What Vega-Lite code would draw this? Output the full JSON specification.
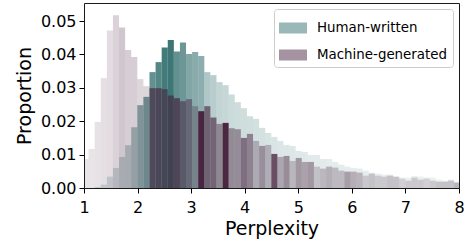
{
  "$schema": "https://vega.github.io/schema/vega-lite/v6.json",
  "width": 375,
  "height": 185,
  "autosize": {"type": "none"},
  "padding": {"left": 84, "top": 3, "right": 8, "bottom": 54},
  "background": "white",
  "config": {
    "font": "DejaVu Sans",
    "view": {"stroke": "#1a1a1a", "strokeWidth": 1},
    "axis": {
      "domain": false, "grid": false, "tickColor": "black", "tickSize": 5, "tickWidth": 1,
      "labelFont": "DejaVu Sans", "labelFontSize": 16, "labelColor": "black",
      "titleFont": "DejaVu Sans", "titleFontSize": 19, "titleFontWeight": "normal", "titleColor": "black",
      "labelFlush": false, "labelOverlap": false
    },
    "axisX": {"labelPadding": 6, "titlePadding": 4},
    "axisY": {"labelPadding": 3, "titlePadding": 6}
  },
  "data": {"values": [
    {"group": "Human-written", "lo": 1.1991, "hi": 1.3128, "p": 0.0003, "shade": 0.2},
    {"group": "Human-written", "lo": 1.3128, "hi": 1.4265, "p": 0.0010, "shade": 0.2},
    {"group": "Human-written", "lo": 1.4265, "hi": 1.5402, "p": 0.0034, "shade": 0.2},
    {"group": "Human-written", "lo": 1.5402, "hi": 1.6539, "p": 0.0060, "shade": 0.22},
    {"group": "Human-written", "lo": 1.6539, "hi": 1.7676, "p": 0.0093, "shade": 0.25},
    {"group": "Human-written", "lo": 1.7676, "hi": 1.8813, "p": 0.0128, "shade": 0.3},
    {"group": "Human-written", "lo": 1.8813, "hi": 1.9950, "p": 0.0182, "shade": 0.4},
    {"group": "Human-written", "lo": 1.9950, "hi": 2.1087, "p": 0.0248, "shade": 0.55},
    {"group": "Human-written", "lo": 2.1087, "hi": 2.2224, "p": 0.0273, "shade": 0.65},
    {"group": "Human-written", "lo": 2.2224, "hi": 2.3361, "p": 0.0347, "shade": 0.75},
    {"group": "Human-written", "lo": 2.3361, "hi": 2.4498, "p": 0.0377, "shade": 0.82},
    {"group": "Human-written", "lo": 2.4498, "hi": 2.5635, "p": 0.0421, "shade": 0.9},
    {"group": "Human-written", "lo": 2.5635, "hi": 2.6772, "p": 0.0443, "shade": 0.93},
    {"group": "Human-written", "lo": 2.6772, "hi": 2.7909, "p": 0.0409, "shade": 0.75},
    {"group": "Human-written", "lo": 2.7909, "hi": 2.9046, "p": 0.0436, "shade": 0.7},
    {"group": "Human-written", "lo": 2.9046, "hi": 3.0183, "p": 0.0401, "shade": 0.6},
    {"group": "Human-written", "lo": 3.0183, "hi": 3.1320, "p": 0.0407, "shade": 0.57},
    {"group": "Human-written", "lo": 3.1320, "hi": 3.2457, "p": 0.0395, "shade": 0.55},
    {"group": "Human-written", "lo": 3.2457, "hi": 3.3594, "p": 0.0347, "shade": 0.38},
    {"group": "Human-written", "lo": 3.3594, "hi": 3.4731, "p": 0.0338, "shade": 0.34},
    {"group": "Human-written", "lo": 3.4731, "hi": 3.5868, "p": 0.0317, "shade": 0.29},
    {"group": "Human-written", "lo": 3.5868, "hi": 3.7005, "p": 0.0308, "shade": 0.27},
    {"group": "Human-written", "lo": 3.7005, "hi": 3.8142, "p": 0.0280, "shade": 0.25},
    {"group": "Human-written", "lo": 3.8142, "hi": 3.9279, "p": 0.0257, "shade": 0.24},
    {"group": "Human-written", "lo": 3.9279, "hi": 4.0416, "p": 0.0239, "shade": 0.23},
    {"group": "Human-written", "lo": 4.0416, "hi": 4.1553, "p": 0.0215, "shade": 0.22},
    {"group": "Human-written", "lo": 4.1553, "hi": 4.2690, "p": 0.0207, "shade": 0.21},
    {"group": "Human-written", "lo": 4.2690, "hi": 4.3827, "p": 0.0180, "shade": 0.2},
    {"group": "Human-written", "lo": 4.3827, "hi": 4.4964, "p": 0.0165, "shade": 0.19},
    {"group": "Human-written", "lo": 4.4964, "hi": 4.6101, "p": 0.0153, "shade": 0.18},
    {"group": "Human-written", "lo": 4.6101, "hi": 4.7238, "p": 0.0141, "shade": 0.17},
    {"group": "Human-written", "lo": 4.7238, "hi": 4.8375, "p": 0.0129, "shade": 0.16},
    {"group": "Human-written", "lo": 4.8375, "hi": 4.9512, "p": 0.0126, "shade": 0.16},
    {"group": "Human-written", "lo": 4.9512, "hi": 5.0649, "p": 0.0111, "shade": 0.15},
    {"group": "Human-written", "lo": 5.0649, "hi": 5.1786, "p": 0.0108, "shade": 0.15},
    {"group": "Human-written", "lo": 5.1786, "hi": 5.2923, "p": 0.0099, "shade": 0.14},
    {"group": "Human-written", "lo": 5.2923, "hi": 5.4060, "p": 0.0099, "shade": 0.14},
    {"group": "Human-written", "lo": 5.4060, "hi": 5.5197, "p": 0.0087, "shade": 0.14},
    {"group": "Human-written", "lo": 5.5197, "hi": 5.6334, "p": 0.0087, "shade": 0.13},
    {"group": "Human-written", "lo": 5.6334, "hi": 5.7471, "p": 0.0078, "shade": 0.13},
    {"group": "Human-written", "lo": 5.7471, "hi": 5.8608, "p": 0.0070, "shade": 0.13},
    {"group": "Human-written", "lo": 5.8608, "hi": 5.9745, "p": 0.0064, "shade": 0.12},
    {"group": "Human-written", "lo": 5.9745, "hi": 6.0882, "p": 0.0060, "shade": 0.12},
    {"group": "Human-written", "lo": 6.0882, "hi": 6.2019, "p": 0.0058, "shade": 0.12},
    {"group": "Human-written", "lo": 6.2019, "hi": 6.3156, "p": 0.0052, "shade": 0.12},
    {"group": "Human-written", "lo": 6.3156, "hi": 6.4293, "p": 0.0046, "shade": 0.11},
    {"group": "Human-written", "lo": 6.4293, "hi": 6.5430, "p": 0.0043, "shade": 0.11},
    {"group": "Human-written", "lo": 6.5430, "hi": 6.6567, "p": 0.0040, "shade": 0.11},
    {"group": "Human-written", "lo": 6.6567, "hi": 6.7704, "p": 0.0040, "shade": 0.11},
    {"group": "Human-written", "lo": 6.7704, "hi": 6.8841, "p": 0.0034, "shade": 0.1},
    {"group": "Human-written", "lo": 6.8841, "hi": 6.9978, "p": 0.0031, "shade": 0.1},
    {"group": "Human-written", "lo": 6.9978, "hi": 7.1115, "p": 0.0031, "shade": 0.1},
    {"group": "Human-written", "lo": 7.1115, "hi": 7.2252, "p": 0.0036, "shade": 0.1},
    {"group": "Human-written", "lo": 7.2252, "hi": 7.3389, "p": 0.0034, "shade": 0.1},
    {"group": "Human-written", "lo": 7.3389, "hi": 7.4526, "p": 0.0031, "shade": 0.1},
    {"group": "Human-written", "lo": 7.4526, "hi": 7.5663, "p": 0.0031, "shade": 0.1},
    {"group": "Human-written", "lo": 7.5663, "hi": 7.6800, "p": 0.0025, "shade": 0.1},
    {"group": "Human-written", "lo": 7.6800, "hi": 7.7937, "p": 0.0022, "shade": 0.1},
    {"group": "Human-written", "lo": 7.7937, "hi": 7.9074, "p": 0.0025, "shade": 0.1},
    {"group": "Human-written", "lo": 7.9074, "hi": 8.0211, "p": 0.0019, "shade": 0.1},
    {"group": "Machine-generated", "lo": 0.9717, "hi": 1.0854, "p": 0.0087, "shade": 0.12},
    {"group": "Machine-generated", "lo": 1.0854, "hi": 1.1991, "p": 0.0117, "shade": 0.12},
    {"group": "Machine-generated", "lo": 1.1991, "hi": 1.3128, "p": 0.0198, "shade": 0.13},
    {"group": "Machine-generated", "lo": 1.3128, "hi": 1.4265, "p": 0.0329, "shade": 0.14},
    {"group": "Machine-generated", "lo": 1.4265, "hi": 1.5402, "p": 0.0472, "shade": 0.15},
    {"group": "Machine-generated", "lo": 1.5402, "hi": 1.6539, "p": 0.0517, "shade": 0.2},
    {"group": "Machine-generated", "lo": 1.6539, "hi": 1.7676, "p": 0.0481, "shade": 0.25},
    {"group": "Machine-generated", "lo": 1.7676, "hi": 1.8813, "p": 0.0413, "shade": 0.22},
    {"group": "Machine-generated", "lo": 1.8813, "hi": 1.9950, "p": 0.0392, "shade": 0.22},
    {"group": "Machine-generated", "lo": 1.9950, "hi": 2.1087, "p": 0.0326, "shade": 0.18},
    {"group": "Machine-generated", "lo": 2.1087, "hi": 2.2224, "p": 0.0305, "shade": 0.18},
    {"group": "Machine-generated", "lo": 2.2224, "hi": 2.3361, "p": 0.0299, "shade": 0.62},
    {"group": "Machine-generated", "lo": 2.3361, "hi": 2.4498, "p": 0.0299, "shade": 0.6},
    {"group": "Machine-generated", "lo": 2.4498, "hi": 2.5635, "p": 0.0296, "shade": 0.55},
    {"group": "Machine-generated", "lo": 2.5635, "hi": 2.6772, "p": 0.0277, "shade": 0.6},
    {"group": "Machine-generated", "lo": 2.6772, "hi": 2.7909, "p": 0.0269, "shade": 0.65},
    {"group": "Machine-generated", "lo": 2.7909, "hi": 2.9046, "p": 0.0260, "shade": 0.5},
    {"group": "Machine-generated", "lo": 2.9046, "hi": 3.0183, "p": 0.0266, "shade": 0.45},
    {"group": "Machine-generated", "lo": 3.0183, "hi": 3.1320, "p": 0.0245, "shade": 0.28},
    {"group": "Machine-generated", "lo": 3.1320, "hi": 3.2457, "p": 0.0230, "shade": 0.95},
    {"group": "Machine-generated", "lo": 3.2457, "hi": 3.3594, "p": 0.0245, "shade": 0.6},
    {"group": "Machine-generated", "lo": 3.3594, "hi": 3.4731, "p": 0.0211, "shade": 0.6},
    {"group": "Machine-generated", "lo": 3.4731, "hi": 3.5868, "p": 0.0192, "shade": 0.42},
    {"group": "Machine-generated", "lo": 3.5868, "hi": 3.7005, "p": 0.0195, "shade": 0.95},
    {"group": "Machine-generated", "lo": 3.7005, "hi": 3.8142, "p": 0.0179, "shade": 0.42},
    {"group": "Machine-generated", "lo": 3.8142, "hi": 3.9279, "p": 0.0176, "shade": 0.42},
    {"group": "Machine-generated", "lo": 3.9279, "hi": 4.0416, "p": 0.0150, "shade": 0.58},
    {"group": "Machine-generated", "lo": 4.0416, "hi": 4.1553, "p": 0.0162, "shade": 0.48},
    {"group": "Machine-generated", "lo": 4.1553, "hi": 4.2690, "p": 0.0141, "shade": 0.27},
    {"group": "Machine-generated", "lo": 4.2690, "hi": 4.3827, "p": 0.0126, "shade": 0.42},
    {"group": "Machine-generated", "lo": 4.3827, "hi": 4.4964, "p": 0.0129, "shade": 0.27},
    {"group": "Machine-generated", "lo": 4.4964, "hi": 4.6101, "p": 0.0102, "shade": 0.75},
    {"group": "Machine-generated", "lo": 4.6101, "hi": 4.7238, "p": 0.0093, "shade": 0.32},
    {"group": "Machine-generated", "lo": 4.7238, "hi": 4.8375, "p": 0.0096, "shade": 0.45},
    {"group": "Machine-generated", "lo": 4.8375, "hi": 4.9512, "p": 0.0081, "shade": 0.24},
    {"group": "Machine-generated", "lo": 4.9512, "hi": 5.0649, "p": 0.0090, "shade": 0.4},
    {"group": "Machine-generated", "lo": 5.0649, "hi": 5.1786, "p": 0.0078, "shade": 0.35},
    {"group": "Machine-generated", "lo": 5.1786, "hi": 5.2923, "p": 0.0078, "shade": 0.4},
    {"group": "Machine-generated", "lo": 5.2923, "hi": 5.4060, "p": 0.0064, "shade": 0.2},
    {"group": "Machine-generated", "lo": 5.4060, "hi": 5.5197, "p": 0.0058, "shade": 0.25},
    {"group": "Machine-generated", "lo": 5.5197, "hi": 5.6334, "p": 0.0064, "shade": 0.3},
    {"group": "Machine-generated", "lo": 5.6334, "hi": 5.7471, "p": 0.0061, "shade": 0.25},
    {"group": "Machine-generated", "lo": 5.7471, "hi": 5.8608, "p": 0.0052, "shade": 0.25},
    {"group": "Machine-generated", "lo": 5.8608, "hi": 5.9745, "p": 0.0049, "shade": 0.38},
    {"group": "Machine-generated", "lo": 5.9745, "hi": 6.0882, "p": 0.0049, "shade": 0.3},
    {"group": "Machine-generated", "lo": 6.0882, "hi": 6.2019, "p": 0.0046, "shade": 0.28},
    {"group": "Machine-generated", "lo": 6.2019, "hi": 6.3156, "p": 0.0037, "shade": 0.18},
    {"group": "Machine-generated", "lo": 6.3156, "hi": 6.4293, "p": 0.0043, "shade": 0.22},
    {"group": "Machine-generated", "lo": 6.4293, "hi": 6.5430, "p": 0.0037, "shade": 0.18},
    {"group": "Machine-generated", "lo": 6.5430, "hi": 6.6567, "p": 0.0034, "shade": 0.18},
    {"group": "Machine-generated", "lo": 6.6567, "hi": 6.7704, "p": 0.0037, "shade": 0.22},
    {"group": "Machine-generated", "lo": 6.7704, "hi": 6.8841, "p": 0.0034, "shade": 0.22},
    {"group": "Machine-generated", "lo": 6.8841, "hi": 6.9978, "p": 0.0028, "shade": 0.15},
    {"group": "Machine-generated", "lo": 6.9978, "hi": 7.1115, "p": 0.0022, "shade": 0.18},
    {"group": "Machine-generated", "lo": 7.1115, "hi": 7.2252, "p": 0.0031, "shade": 0.18},
    {"group": "Machine-generated", "lo": 7.2252, "hi": 7.3389, "p": 0.0025, "shade": 0.18},
    {"group": "Machine-generated", "lo": 7.3389, "hi": 7.4526, "p": 0.0028, "shade": 0.15},
    {"group": "Machine-generated", "lo": 7.4526, "hi": 7.5663, "p": 0.0022, "shade": 0.18},
    {"group": "Machine-generated", "lo": 7.5663, "hi": 7.6800, "p": 0.0019, "shade": 0.22},
    {"group": "Machine-generated", "lo": 7.6800, "hi": 7.7937, "p": 0.0019, "shade": 0.22},
    {"group": "Machine-generated", "lo": 7.7937, "hi": 7.9074, "p": 0.0022, "shade": 0.22},
    {"group": "Machine-generated", "lo": 7.9074, "hi": 8.0211, "p": 0.0016, "shade": 0.28}
  ]},
  "encoding": {
    "x": {"field": "lo", "type": "quantitative",
      "scale": {"domain": [1, 8], "nice": false, "zero": false},
      "axis": {"values": [1, 2, 3, 4, 5, 6, 7, 8], "format": "d", "title": "Perplexity"}},
    "x2": {"field": "hi"},
    "y": {"field": "p", "type": "quantitative", "stack": null,
      "scale": {"domain": [0, 0.0554], "nice": false, "zero": true},
      "axis": {"values": [0, 0.01, 0.02, 0.03, 0.04, 0.05], "format": ".2f", "title": "Proportion"}},
    "y2": {"datum": 0},
    "color": {"field": "group", "type": "nominal",
      "scale": {"domain": ["Human-written", "Machine-generated"], "range": ["#2f6b6b", "#441e3a"]},
      "legend": {
        "orient": "none", "legendX": 190, "legendY": 6, "title": null,
        "symbolType": "M-1,-0.393L1,-0.393L1,0.393L-1,0.393Z", "symbolSize": 784,
        "symbolOpacity": 0.48, "symbolStrokeWidth": 0,
        "labelFont": "DejaVu Sans", "labelFontSize": 13.4, "labelColor": "black",
        "labelOffset": 10, "rowPadding": 6, "padding": 5,
        "fillColor": "rgba(255,255,255,0.8)", "strokeColor": "#cccccc", "cornerRadius": 3
      }},
    "opacity": {"field": "shade", "type": "quantitative",
      "scale": {"domain": [0, 1], "range": [0, 1]}, "legend": null}
  },
  "layer": [
    {"transform": [{"filter": "datum.group === 'Human-written'"}], "mark": {"type": "bar", "clip": true}},
    {"transform": [{"filter": "datum.group === 'Machine-generated'"}], "mark": {"type": "bar", "clip": true}}
  ]
}
